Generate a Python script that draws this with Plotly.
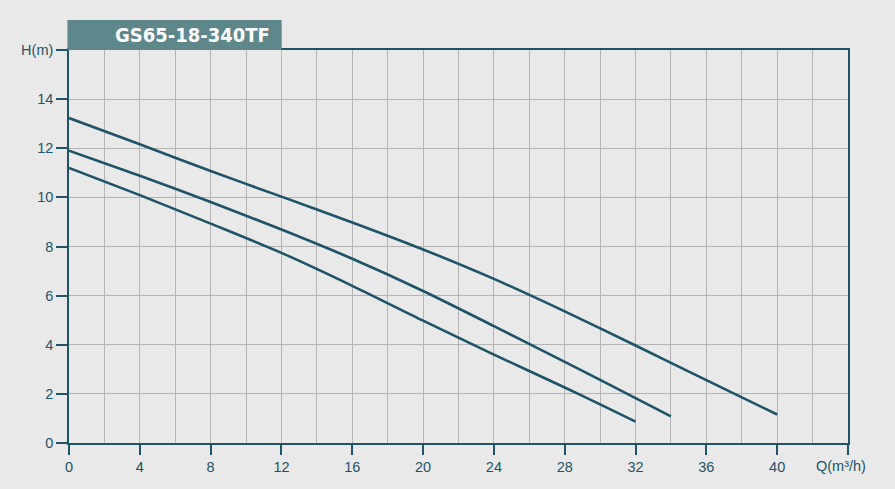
import plotly.graph_objects as go

# Data
q1 = [0, 4, 8, 12, 16, 20, 24, 28, 32, 36, 40]
h1 = [13.23, 12.16, 11.07, 10.03, 8.98, 7.88, 6.68, 5.36, 3.97, 2.56, 1.16]

q2 = [0, 4, 8, 12, 16, 20, 24, 28, 30, 34]
h2 = [11.9, 10.88, 9.81, 8.69, 7.5, 6.19, 4.76, 3.3, 2.57, 1.08]

q3 = [0, 4, 8, 12, 16, 20, 24, 28, 30, 32]
h3 = [11.2, 10.09, 8.93, 7.74, 6.4, 4.98, 3.6, 2.26, 1.57, 0.87]

x_ticks = [0, 4, 8, 12, 16, 20, 24, 28, 32, 36, 40, 44]
x_ticktext = ["0", "4", "8", "12", "16", "20", "24", "28", "32", "36", "40", ""]
y_ticks = [0, 2, 4, 6, 8, 10, 12, 14, 16]
y_ticktext = ["0", "2", "4", "6", "8", "10", "12", "14", "H(m)"]

title_text = "GS65-18-340TF"
x_unit = "Q(m³/h)"

LINE = "#1d5468"
GRID = "#b4b4b4"
BG = "#e9e9e9"

fig = go.Figure()
for q, h in [(q1, h1), (q2, h2), (q3, h3)]:
    fig.add_trace(go.Scatter(x=q, y=h, mode="lines", line=dict(color=LINE, width=2.6, shape="spline", smoothing=0.8),
                             hoverinfo="skip", showlegend=False))

fig.update_layout(
    width=895, height=489,
    margin=dict(l=69, r=47, t=50, b=46),
    paper_bgcolor=BG, plot_bgcolor=BG,
    font=dict(family="Liberation Sans, Arial, sans-serif", size=14.5, color=LINE),
    showlegend=False,
)
fig.update_xaxes(
    range=[0, 44], tickvals=x_ticks, ticktext=x_ticktext,
    showgrid=True, gridcolor=GRID, gridwidth=1,
    minor=dict(dtick=2, tick0=0, showgrid=True, gridcolor=GRID, gridwidth=1),
    showline=True, linecolor=LINE, linewidth=1.6, mirror=True,
    ticks="outside", ticklen=10, tickcolor=LINE, tickwidth=1.6,
    zeroline=False, tickfont=dict(size=14.5, color=LINE),
)
fig.update_yaxes(
    range=[0, 16], tickvals=y_ticks, ticktext=y_ticktext,
    showgrid=True, gridcolor=GRID, gridwidth=1,
    showline=True, linecolor=LINE, linewidth=1.6, mirror=True,
    ticks="outside", ticklen=11, tickcolor=LINE, tickwidth=1.6,
    zeroline=False, tickfont=dict(size=14.5, color=LINE),
)

# Title banner
fig.add_shape(type="rect", xref="paper", yref="paper", x0=-0.002, x1=0.273, y0=1.0, y1=1.0763,
              fillcolor="#5d878b", line=dict(width=0), layer="above")
fig.add_annotation(xref="paper", yref="paper", x=0.158, y=1.038, text="<b>" + title_text + "</b>",
                   showarrow=False, font=dict(family="DejaVu Sans Condensed, DejaVu Sans, sans-serif", size=20, color="white"),
                   xanchor="center", yanchor="middle")
fig.add_annotation(xref="paper", yref="paper", x=(841 - 69.3) / 779, y=-0.058, text=x_unit,
                   showarrow=False, font=dict(size=14.5, color=LINE), xanchor="center", yanchor="middle")

fig.write_html("out.html", config={"displayModeBar": False},
               post_script="document.body.style.margin='0';document.body.style.background='%s';" % BG)
